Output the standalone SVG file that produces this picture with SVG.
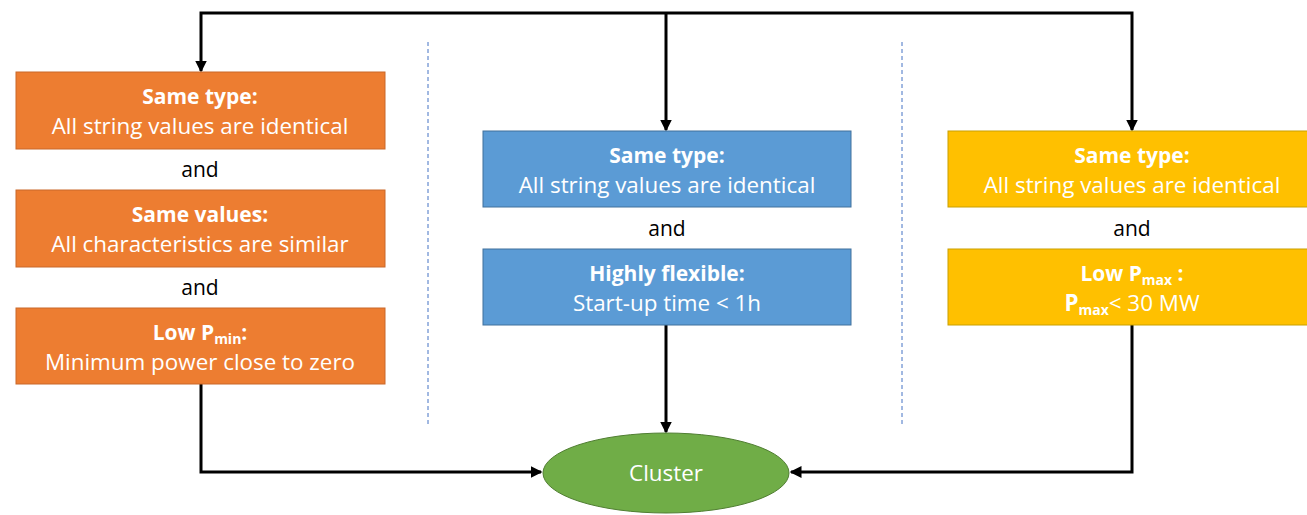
<svg xmlns="http://www.w3.org/2000/svg" width="1307" height="515" viewBox="0 0 1307 515">
<style>
text{font-family:"Open Sans","Liberation Sans",sans-serif;font-size:21px;text-anchor:middle}
.w{fill:#fff;font-size:22.4px}
.b{font-weight:bold;font-size:21px}
.k{fill:#000}
.or{fill:#ED7D31;stroke:#C9692A;stroke-width:1}
.bl{fill:#5B9BD5;stroke:#41719C;stroke-width:1}
.ye{fill:#FFC000;stroke:#C9A000;stroke-width:1}
.c{fill:none;stroke:#000;stroke-width:3}
.d{stroke:#4472C4;stroke-width:1;stroke-dasharray:4 3}
</style>
<defs>
<marker id="a" markerWidth="4" markerHeight="4" refX="3.5" refY="2" orient="auto" markerUnits="strokeWidth">
<path d="M0,0 L4,2 L0,4 Z" fill="#000"/>
</marker>
</defs>
<g id="dividers">
<line class="d" x1="428" y1="42" x2="428" y2="425"/>
<line class="d" x1="902" y1="42" x2="902" y2="425"/>
</g>
<g id="connectors">
<polyline class="c" points="666,13 201,13 201,71" marker-end="url(#a)"/>
<polyline class="c" points="666,13 1132,13 1132,130" marker-end="url(#a)"/>
<polyline class="c" points="666,13 666,130" marker-end="url(#a)"/>
<polyline class="c" points="201,384 201,472 541,472" marker-end="url(#a)"/>
<polyline class="c" points="666,325 666,432" marker-end="url(#a)"/>
<polyline class="c" points="1132,325 1132,472 791,472" marker-end="url(#a)"/>
</g>
<g id="o1">
<rect class="or" x="16" y="72" width="369" height="77"/>
<text class="w b" x="200" y="104">Same type:</text>
<text class="w" x="200" y="134">All string values are identical</text>
</g>
<text x="200" y="177" class="k">and</text>
<g id="o2">
<rect class="or" x="16" y="190" width="369" height="77"/>
<text class="w b" x="200" y="222">Same values:</text>
<text class="w" x="200" y="252">All characteristics are similar</text>
</g>
<text x="200" y="295" class="k">and</text>
<g id="o3">
<rect class="or" x="16" y="308" width="369" height="76"/>
<text class="w b" x="200" y="340">Low P<tspan font-size="14" dy="4">min</tspan><tspan dy="-4">:</tspan></text>
<text class="w" x="200" y="370">Minimum power close to zero</text>
</g>
<g id="b1">
<rect class="bl" x="483" y="131" width="368" height="76"/>
<text class="w b" x="667" y="163">Same type:</text>
<text class="w" x="667" y="193">All string values are identical</text>
</g>
<text x="667" y="236" class="k">and</text>
<g id="b2">
<rect class="bl" x="483" y="249" width="368" height="76"/>
<text class="w b" x="667" y="281">Highly flexible:</text>
<text class="w" x="667" y="311">Start-up time &lt; 1h</text>
</g>
<g id="y1">
<rect class="ye" x="948" y="131" width="369" height="76"/>
<text class="w b" x="1132" y="163">Same type:</text>
<text class="w" x="1132" y="193">All string values are identical</text>
</g>
<text x="1132" y="236" class="k">and</text>
<g id="y2">
<rect class="ye" x="948" y="249" width="369" height="76"/>
<text class="w b" x="1132" y="281">Low P<tspan font-size="14" dy="4">max</tspan><tspan dy="-4"> :</tspan></text>
<text class="w" x="1132" y="311"><tspan font-weight="bold">P<tspan font-size="14" dy="4">max</tspan></tspan><tspan dy="-4">&lt; 30 MW</tspan></text>
</g>
<g id="cluster">
<ellipse cx="666" cy="473" rx="123" ry="40" fill="#70AD47" stroke="#507E32" stroke-width="1"/>
<text class="w" x="666" y="481">Cluster</text>
</g>
</svg>
